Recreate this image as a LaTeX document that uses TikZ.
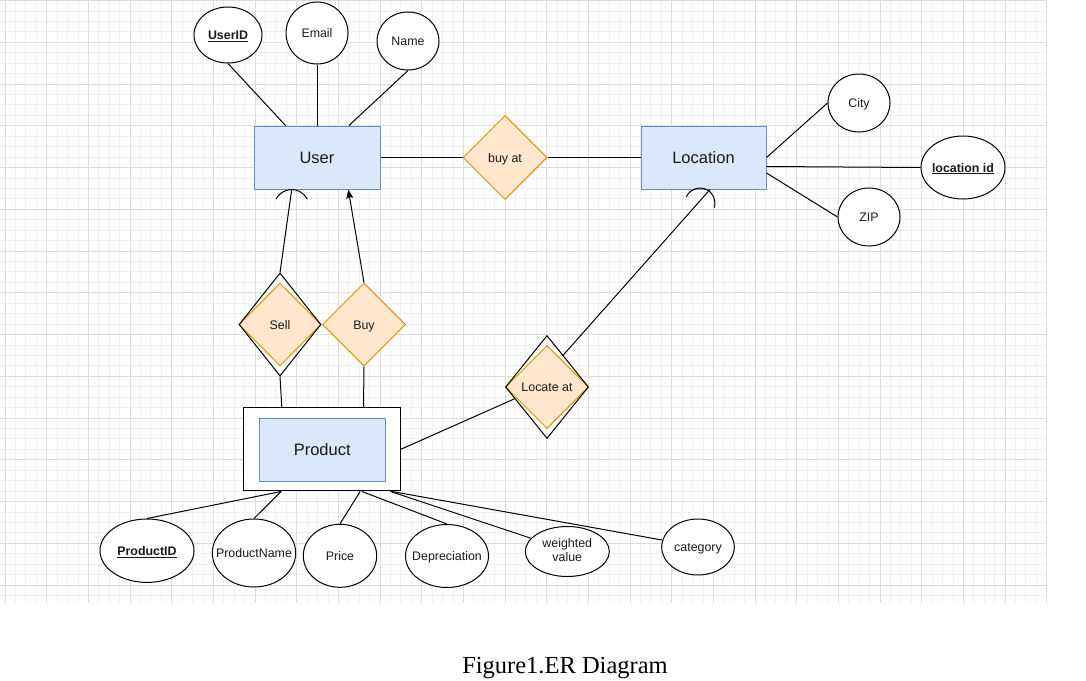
\documentclass[tikz,border=0pt]{standalone}
\usepackage{fontspec}
\setmainfont{Liberation Sans}
\newfontfamily\capfont{Liberation Serif}
\usetikzlibrary{shapes.geometric,arrows.meta}
\definecolor{entfill}{HTML}{DAE8FC}
\definecolor{entdraw}{HTML}{6C8EBF}
\definecolor{relfill}{HTML}{FFE6CC}
\definecolor{reldraw}{HTML}{D79B00}
\definecolor{gridmaj}{HTML}{DDDDDD}
\definecolor{gridmin}{HTML}{F1F1F1}
\definecolor{txt}{HTML}{1A1A1A}
\newcommand\attrtext[1]{\makebox[0pt]{#1}}
\begin{document}
\begin{tikzpicture}[x=1pt,y=-1pt,
 attr/.style={ellipse,draw=black,fill=white,line width=1pt,inner sep=0pt,font=\fontsize{12.4}{14.5}\selectfont,text=txt},
 oneline/.style={text height=11.5pt,text depth=2.5pt},
 entity/.style={rectangle,draw=entdraw,fill=entfill,line width=1pt,inner sep=0pt,font=\fontsize{16.5}{19}\selectfont,text=txt},
 rel/.style={diamond,draw=reldraw,fill=relfill,line width=1pt,inner sep=0pt,font=\fontsize{12.4}{14.5}\selectfont,text=txt,oneline},
 relouter/.style={diamond,draw=black,line width=1pt,inner sep=0pt},
 conn/.style={draw=black,line width=1pt},
 gmin/.style={draw=gridmin,line width=0.8pt},
 gmaj/.style={draw=gridmaj,line width=0.8pt}]
\useasboundingbox (0,0) rectangle (1086,680);
\fill[white] (0,0) rectangle (1086,680);
% grid
\foreach \i in {0,...,100}{\draw[gmin] ({5+\i*10.41667},0) -- ({5+\i*10.41667},602.5);}
\foreach \j in {0,...,57}{\draw[gmin] (0,{0.5+\j*10.4375}) -- (1046.7,{0.5+\j*10.4375});}
\foreach \i in {0,...,25}{\draw[gmaj] ({5+\i*41.66667},0) -- ({5+\i*41.66667},602.5);}
\foreach \j in {0,...,14}{\draw[gmaj] (0,{0.5+\j*41.75}) -- (1046.7,{0.5+\j*41.75});}
% attributes of User
\node[attr,oneline,minimum width=68pt,minimum height=56pt] (userid) at (228,35) {\attrtext{\textbf{\underline{UserID}}}};
\node[attr,oneline,minimum width=62pt,minimum height=62pt] (email) at (317,33) {\attrtext{Email}};
\node[attr,oneline,minimum width=62pt,minimum height=58pt] (name) at (408,41) {\attrtext{Name}};
% entities
\node[entity,minimum width=126pt,minimum height=63pt] (user) at (317,157.5) {User};
\node[entity,minimum width=125pt,minimum height=63pt] (location) at (703.5,157.5) {Location};
\node[rel,minimum width=84pt,minimum height=84pt] (buyat) at (505,157.5) {buy at};
% location attributes
\node[attr,oneline,minimum width=62pt,minimum height=58pt] (city) at (859,103) {\attrtext{City}};
\node[attr,oneline,minimum width=84pt,minimum height=63pt] (locid) at (963,167.5) {\attrtext{\textbf{\underline{location id}}}};
\node[attr,oneline,minimum width=62pt,minimum height=58pt] (zip) at (869,217) {\attrtext{ZIP}};
% relationships
\node[rel,minimum width=82pt,minimum height=83pt] (sell) at (280,324.5) {Sell};
\node[relouter,minimum width=82pt,minimum height=103pt] (sellouter) at (280,324.5) {};
\node[rel,minimum width=83pt,minimum height=83pt] (buy) at (364,324.5) {Buy};
\node[rel,minimum width=83pt,minimum height=83pt] (locate) at (547,387) {Locate at};
\node[relouter,minimum width=83pt,minimum height=103pt] (locateouter) at (547,387) {};
% product
\node[rectangle,draw=black,fill=white,line width=1pt,minimum width=157pt,minimum height=83.3pt,inner sep=0pt] (productouter) at (321.8,449.3) {};
\node[entity,minimum width=126pt,minimum height=63pt] (product) at (322.2,449.7) {Product};
% product attributes
\node[attr,oneline,minimum width=94pt,minimum height=63.4pt] (productid) at (147,550.7) {\attrtext{\textbf{\underline{ProductID}}}};
\node[attr,oneline,minimum width=83.4pt,minimum height=68pt] (productname) at (254,553) {\attrtext{ProductName}};
\node[attr,oneline,minimum width=73.4pt,minimum height=63pt] (price) at (340,555.8) {\attrtext{Price}};
\node[attr,oneline,minimum width=83pt,minimum height=63pt] (depreciation) at (447,556) {\attrtext{Depreciation}};
\node[attr,minimum width=84pt,minimum height=50pt] (weighted) at (567.3,551.5) {\attrtext{\begin{tabular}{@{}c@{}}weighted\\value\end{tabular}}};
\node[attr,oneline,minimum width=72.6pt,minimum height=56pt] (category) at (698,547) {\attrtext{category}};
% connectors
\draw[conn] (userid.south) -- ([xshift=32pt]user.north west);
\draw[conn] (email.south) -- (user.north);
\draw[conn] (name.south) -- ([xshift=32pt]user.north);
\draw[conn] (user.east) -- (buyat.west);
\draw[conn] (buyat.east) -- (location.west);
\draw[conn] (location.east) -- (city.west);
\draw[conn] ([yshift=-9pt]location.east) -- (locid.west);
\draw[conn] ([yshift=-15.5pt]location.east) -- (zip.west);
\draw[conn] (sellouter.north) -- ([xshift=-25.3pt]user.south) coordinate (sellend);
\draw[conn] ([shift={(-15.6,9.6)}]sellend) arc[start angle=207,end angle=333,radius=17.5];
\draw[conn,-{Stealth[length=9pt,width=7pt,inset=1.5pt]}] (buy.north) -- ([xshift=31.3pt]user.south);
\draw[conn] (sellouter.south) -- ([xshift=39pt]productouter.north west);
\draw[conn] (buy.south) -- ([xshift=120.7pt]productouter.north west);
\draw[conn] (productouter.east) -- (locateouter.200.6);
\draw[conn] (locateouter.63.9) -- ([xshift=6.5pt]location.south);
\draw[conn] ([shift={(-17.1,7.2)}]location.south) arc[start angle=205,end angle=378,radius=15];
\draw[conn] ([xshift=38.4pt]productouter.south west) -- (productid.north);
\draw[conn] ([xshift=38.4pt]productouter.south west) -- (productname.north);
\draw[conn] ([xshift=117.4pt]productouter.south west) -- (price.north);
\draw[conn] ([xshift=119pt]productouter.south west) -- (depreciation.north);
\draw[conn] ([xshift=147.7pt]productouter.south west) -- (weighted.160.6);
\draw[conn] ([xshift=149pt]productouter.south west) -- (category.169.1);
% caption
\node[font=\capfont\fontsize{24.5}{28}\selectfont,anchor=base,text=black] (caption) at (565,673) {Figure1.ER Diagram};
\end{tikzpicture}
\end{document}
